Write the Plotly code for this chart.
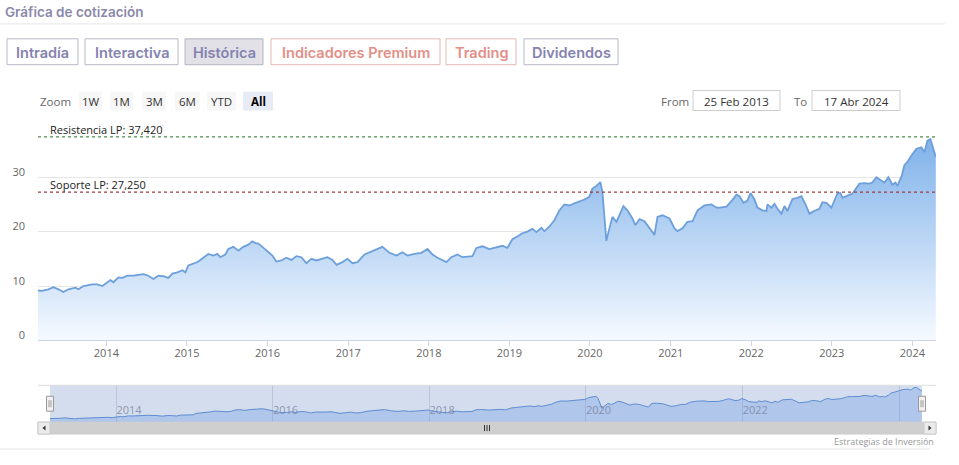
import datetime as dt
import plotly.graph_objects as go

W, H = 959, 453

# time as decimal years, closing price
years = [2013.144, 2013.202, 2013.280, 2013.342, 2013.404, 2013.466, 2013.529, 2013.615, 2013.653, 2013.715,
 2013.826, 2013.888, 2013.950, 2014.012, 2014.050, 2014.087, 2014.149, 2014.199, 2014.261, 2014.335,
 2014.397, 2014.459, 2014.521, 2014.583, 2014.645, 2014.707, 2014.769, 2014.819, 2014.881, 2014.943,
 2014.980, 2015.017, 2015.079, 2015.141, 2015.203, 2015.266, 2015.328, 2015.377, 2015.414, 2015.476,
 2015.514, 2015.576, 2015.638, 2015.700, 2015.762, 2015.811, 2015.849, 2015.886, 2015.936, 2015.998,
 2016.060, 2016.109, 2016.171, 2016.233, 2016.295, 2016.357, 2016.419, 2016.481, 2016.543, 2016.605,
 2016.668, 2016.742, 2016.804, 2016.854, 2016.928, 2016.990, 2017.052, 2017.114, 2017.201, 2017.288,
 2017.362, 2017.424, 2017.511, 2017.598, 2017.672, 2017.734, 2017.821, 2017.908, 2017.983, 2018.045,
 2018.107, 2018.218, 2018.280, 2018.355, 2018.417, 2018.504, 2018.541, 2018.591, 2018.665, 2018.752,
 2018.839, 2018.913, 2018.975, 2019.037, 2019.099, 2019.161, 2019.223, 2019.285, 2019.335, 2019.397,
 2019.434, 2019.496, 2019.558, 2019.620, 2019.682, 2019.744, 2019.806, 2019.868, 2019.931, 2019.993,
 2020.030, 2020.079, 2020.129, 2020.154, 2020.179, 2020.203, 2020.241, 2020.278, 2020.328, 2020.377,
 2020.414, 2020.464, 2020.526, 2020.563, 2020.613, 2020.675, 2020.737, 2020.799, 2020.836, 2020.898,
 2020.985, 2021.047, 2021.084, 2021.146, 2021.208, 2021.270, 2021.333, 2021.419, 2021.506, 2021.568,
 2021.606, 2021.692, 2021.754, 2021.816, 2021.854, 2021.903, 2021.953, 2021.990, 2022.040, 2022.077,
 2022.139, 2022.189, 2022.201, 2022.251, 2022.288, 2022.325, 2022.375, 2022.412, 2022.449, 2022.511,
 2022.573, 2022.623, 2022.673, 2022.722, 2022.784, 2022.846, 2022.883, 2022.933, 2022.995, 2023.032,
 2023.069, 2023.107, 2023.132, 2023.194, 2023.256, 2023.305, 2023.342, 2023.404, 2023.467, 2023.504,
 2023.553, 2023.603, 2023.653, 2023.702, 2023.752, 2023.789, 2023.814, 2023.864, 2023.901, 2023.938,
 2023.988, 2024.050, 2024.112, 2024.149, 2024.186, 2024.223, 2024.248, 2024.290]
prices = [9.2, 9.1, 9.4, 9.8, 9.4, 8.9, 9.4, 9.7, 9.4, 10.0,
 10.3, 10.3, 10.0, 10.7, 11.1, 10.7, 11.6, 11.5, 11.9, 11.9,
 12.1, 12.2, 11.9, 11.3, 11.9, 11.8, 11.5, 12.3, 12.5, 12.9,
 12.5, 13.8, 14.1, 14.5, 15.2, 15.9, 15.6, 15.9, 15.3, 15.8,
 16.8, 17.2, 16.5, 17.2, 17.6, 18.2, 17.9, 17.8, 17.2, 16.4,
 15.6, 14.5, 14.7, 15.2, 14.8, 15.5, 15.3, 14.2, 15.0, 14.7,
 15.0, 15.3, 14.8, 13.9, 14.4, 15.0, 14.2, 14.4, 15.8, 16.4,
 16.8, 17.2, 16.1, 15.6, 16.2, 15.6, 15.9, 16.1, 16.8, 15.8,
 15.2, 14.4, 15.3, 15.8, 15.3, 15.5, 15.5, 17.0, 17.3, 16.8,
 17.2, 17.4, 17.0, 18.6, 19.1, 19.7, 20.0, 20.5, 19.9, 20.7,
 20.1, 20.9, 22.1, 23.9, 25.0, 24.8, 25.2, 25.5, 25.9, 26.4,
 27.9, 28.4, 29.1, 27.3, 22.4, 18.3, 20.6, 22.7, 21.8, 23.6,
 24.7, 23.9, 22.4, 21.2, 22.3, 21.9, 20.7, 19.4, 22.7, 23.0,
 22.4, 20.6, 20.1, 20.6, 21.8, 21.9, 23.9, 24.8, 25.0, 24.4,
 24.4, 24.6, 25.6, 26.8, 26.5, 25.3, 25.7, 27.1, 25.9, 24.4,
 23.9, 23.8, 25.0, 24.4, 25.1, 24.2, 23.3, 24.7, 23.8, 26.0,
 26.2, 26.5, 25.0, 23.3, 23.8, 24.2, 25.4, 25.3, 24.4, 25.6,
 27.0, 27.1, 26.2, 26.6, 27.0, 28.0, 28.8, 28.9, 28.8, 29.0,
 30.0, 29.5, 29.0, 30.0, 28.6, 29.0, 28.4, 30.1, 32.2, 32.8,
 34.0, 35.2, 35.5, 34.6, 36.7, 37.0, 35.8, 33.7]

resistance = 37.42
support = 27.25
y_ticks = [0, 10, 20, 30, 40]
y_labels = ["0", "10", "20", "30", ""]
x_start, x_end = "2013-02-25", "2024-04-17"

tabs = [("Intradía", 7, 78, "purple"), ("Interactiva", 85, 178, "purple"), ("Histórica", 185, 263, "active"),
        ("Indicadores Premium", 271, 440, "salmon"), ("Trading", 446, 516, "salmon"), ("Dividendos", 524, 618, "purple")]
zoom_btns = [("1W", 79, 102), ("1M", 110, 133), ("3M", 142, 166), ("6M", 175, 200), ("YTD", 207, 236), ("All", 243, 273)]


def to_date(yf):
    y = int(yf)
    start = dt.datetime(y, 1, 1)
    length = (dt.datetime(y + 1, 1, 1) - start).total_seconds()
    return start + dt.timedelta(seconds=(yf - y) * length)


dates = [to_date(v) for v in years]


def px(x):
    return x / W


def py(y):
    return 1 - y / H


fig = go.Figure()

fig.add_trace(go.Scatter(
    x=dates, y=prices, mode="lines", line=dict(color="#6d9fdb", width=1.8),
    fill="tozeroy",
    fillgradient=dict(type="vertical", start=0, stop=37,
                      colorscale=[[0, "rgba(246,250,255,1)"], [1, "rgba(128,178,234,1)"]]),
    hoverinfo="skip", showlegend=False))

fig.add_trace(go.Scatter(
    x=dates, y=prices, mode="lines", line=dict(color="#5d8dd2", width=1),
    fill="tozeroy", fillcolor="rgba(110,155,225,0.35)",
    xaxis="x2", yaxis="y2", hoverinfo="skip", showlegend=False))

shapes = []
annotations = []

# title + separators
annotations.append(dict(x=px(3), y=py(12), xref="paper", yref="paper", text="Gráfica de cotización",
                        showarrow=False, xanchor="left", yanchor="middle",
                        font=dict(family="Inter", size=13.5, color="#8a89aa", weight=600)))
shapes.append(dict(type="line", xref="paper", yref="paper", x0=0, x1=px(945), y0=py(24), y1=py(24),
                   line=dict(color="#e6e6ea", width=1)))
shapes.append(dict(type="line", xref="paper", yref="paper", x0=0, x1=px(930), y0=py(451), y1=py(451),
                   line=dict(color="#e6e6ea", width=1)))

# tabs
for label, x0, x1, kind in tabs:
    if kind == "active":
        fill, border, col = "#e1e1e7", "#b4b4c0", "#8583b0"
    elif kind == "salmon":
        fill, border, col = "white", "#e6b6b2", "#e38f88"
    else:
        fill, border, col = "white", "#b9b9c9", "#8583b0"
    shapes.append(dict(type="rect", xref="paper", yref="paper", x0=px(x0), x1=px(x1), y0=py(65), y1=py(39),
                       fillcolor=fill, line=dict(color=border, width=1)))
    annotations.append(dict(x=px((x0 + x1) / 2), y=py(52.5), xref="paper", yref="paper", text=label,
                            showarrow=False, xanchor="center", yanchor="middle",
                            font=dict(family="Inter", size=14.5, color=col, weight=600)))

# range selector
annotations.append(dict(x=px(38), y=py(101.5), xref="paper", yref="paper", text="Zoom", showarrow=False,
                        xanchor="left", yanchor="middle", font=dict(family="Open Sans", size=11.5, color="#666")))
for label, x0, x1 in zoom_btns:
    sel = label == "All"
    shapes.append(dict(type="rect", xref="paper", yref="paper", x0=px(x0), x1=px(x1), y0=py(111), y1=py(92),
                       fillcolor="#e6ebf5" if sel else "#f7f7f7", line=dict(width=0)))
    annotations.append(dict(x=px((x0 + x1) / 2), y=py(101.5), xref="paper", yref="paper",
                            text="<b>All</b>" if sel else label, showarrow=False,
                            xanchor="center", yanchor="middle",
                            font=dict(family="Open Sans", size=11.5, color="#000" if sel else "#333")))

annotations.append(dict(x=px(659), y=py(101.5), xref="paper", yref="paper", text="From", showarrow=False,
                        xanchor="left", yanchor="middle", font=dict(family="Open Sans", size=11.5, color="#666")))
annotations.append(dict(x=px(792), y=py(101.5), xref="paper", yref="paper", text="To", showarrow=False,
                        xanchor="left", yanchor="middle", font=dict(family="Open Sans", size=11.5, color="#666")))
for txt, x0, x1 in [("25 Feb 2013", 693, 780), ("17 Abr 2024", 812, 900)]:
    shapes.append(dict(type="rect", xref="paper", yref="paper", x0=px(x0), x1=px(x1), y0=py(111), y1=py(91),
                       fillcolor="white", line=dict(color="#cccccc", width=1)))
    annotations.append(dict(x=px((x0 + x1) / 2), y=py(101.5), xref="paper", yref="paper", text=txt,
                            showarrow=False, xanchor="center", yanchor="middle",
                            font=dict(family="Open Sans", size=11.5, color="#333")))

# support / resistance
for val, col, lbl in [(resistance, "#4c8f4c", "Resistencia LP: 37,420"), (support, "#a03c3c", "Soporte LP: 27,250")]:
    shapes.append(dict(type="line", xref="x domain", yref="y", x0=0, x1=1, y0=val, y1=val,
                       line=dict(color=col, width=1.2, dash="dot")))
    annotations.append(dict(x=10 / 898, y=val, xref="x domain", yref="y", text=lbl, showarrow=False,
                            xanchor="left", yanchor="bottom", yshift=-2,
                            font=dict(family="Open Sans", size=11, color="#222")))

# navigator mask + border
shapes.append(dict(type="rect", xref="x2 domain", yref="y2 domain", x0=0, x1=1, y0=0, y1=1,
                   fillcolor="rgba(102,133,194,0.28)", line=dict(width=0), layer="below"))
shapes.append(dict(type="line", xref="paper", yref="paper", x0=px(38), x1=px(936), y0=py(387), y1=py(387),
                   line=dict(color="#dcdcdc", width=1)))

# scrollbar
shapes.append(dict(type="rect", xref="paper", yref="paper", x0=px(38), x1=px(936), y0=py(436), y1=py(424),
                   fillcolor="#cfcfcf", line=dict(color="#cccccc", width=1)))
for x0, x1 in [(38, 50), (924, 936)]:
    shapes.append(dict(type="rect", xref="paper", yref="paper", x0=px(x0), x1=px(x1), y0=py(436), y1=py(424),
                       fillcolor="#ebebeb", line=dict(color="#cccccc", width=1)))
shapes.append(dict(type="path", xref="paper", yref="paper",
                   path=f"M {px(45.5)} {py(427.5)} L {px(42.5)} {py(430)} L {px(45.5)} {py(432.5)} Z",
                   fillcolor="#333", line=dict(width=0)))
shapes.append(dict(type="path", xref="paper", yref="paper",
                   path=f"M {px(928.5)} {py(427.5)} L {px(931.5)} {py(430)} L {px(928.5)} {py(432.5)} Z",
                   fillcolor="#333", line=dict(width=0)))
for gx in [484.5, 487, 489.5]:
    shapes.append(dict(type="line", xref="paper", yref="paper", x0=px(gx), x1=px(gx), y0=py(427), y1=py(433),
                       line=dict(color="#333", width=1)))

# navigator handles
for hx in [50, 922]:
    shapes.append(dict(type="rect", xref="paper", yref="paper", x0=px(hx - 3.5), x1=px(hx + 3.5),
                       y0=py(413), y1=py(398), fillcolor="#f2f2f2", line=dict(color="#999", width=1)))
    for dx in [-1, 1]:
        shapes.append(dict(type="line", xref="paper", yref="paper", x0=px(hx + dx), x1=px(hx + dx),
                           y0=py(409), y1=py(402), line=dict(color="#999", width=1)))

annotations.append(dict(x=px(936), y=py(443), xref="paper", yref="paper", text="Estrategias de Inversión",
                        showarrow=False, xanchor="right", yanchor="middle",
                        font=dict(family="Open Sans", size=9, color="#999")))

fig.update_layout(
    width=W, height=H, margin=dict(l=0, r=0, t=0, b=0),
    paper_bgcolor="white", plot_bgcolor="rgba(0,0,0,0)",
    shapes=shapes, annotations=annotations,
    xaxis=dict(domain=[px(38), px(936)], range=[x_start, x_end], type="date",
               showgrid=False, ticks="outside", ticklen=5, tickcolor="#ccd6eb",
               showline=True, linecolor="#ccd6eb", linewidth=1,
               tickformat="%Y", dtick="M12", tick0="2014-01-01", ticklabelstandoff=-3,
               tickfont=dict(family="Open Sans", size=11, color="#666"), fixedrange=True),
    yaxis=dict(domain=[py(342), py(123)], range=[0, 40.05], tickvals=y_ticks,
               ticktext=y_labels,
               showgrid=True, gridcolor="#e6e6e6", zeroline=False,
               ticks="", ticklabelstandoff=12, ticklabelshift=-5,
               tickfont=dict(family="Open Sans", size=11, color="#666"), fixedrange=True),
    xaxis2=dict(domain=[px(50), px(922)], range=[x_start, x_end], type="date", anchor="y2",
                showgrid=True, gridcolor="rgba(140,150,175,0.35)", dtick="M24", tick0="2014-01-01",
                tickformat="%Y", ticklabelposition="inside right", ticks="",
                tickfont=dict(family="Open Sans", size=11, color="rgba(120,130,160,0.8)"),
                showline=False, zeroline=False, fixedrange=True),
    yaxis2=dict(domain=[py(424), py(387)], range=[6, 39], anchor="x2", showgrid=False,
                showticklabels=False, zeroline=False, fixedrange=True),
)

fig.write_html("out.html")
